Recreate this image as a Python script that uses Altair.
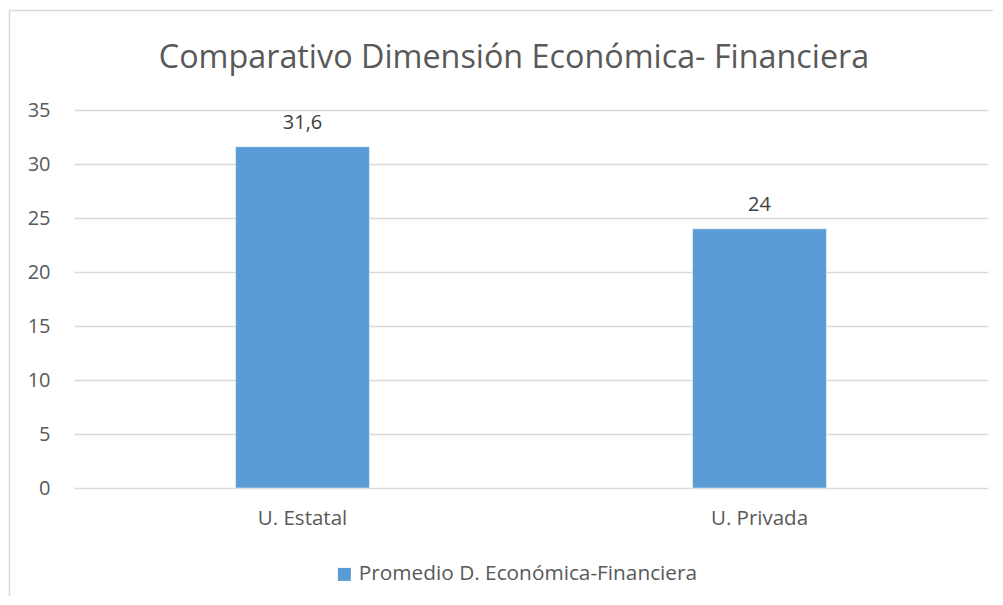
import altair as alt
import pandas as pd

categories = ["U. Estatal", "U. Privada"]
values = [31.6, 24]
value_labels = ["31,6", "24"]
series_name = "Promedio D. Económica-Financiera"
y_ticks = [0, 5, 10, 15, 20, 25, 30, 35]
title_text = "Comparativo Dimensión Económica- Financiera"

df = pd.DataFrame({
    "cat": categories,
    "val": values,
    "lab": value_labels,
    "series": [series_name] * len(categories),
})

FONT = "Open Sans"
TXT = "#595959"

x_enc = alt.X("cat:N", sort=categories, title=None,
              scale=alt.Scale(paddingInner=0.707, paddingOuter=0.3535),
              axis=alt.Axis(labelAngle=0, ticks=False, domain=False, labelPadding=20,
                            labelFontSize=20.5, labelColor=TXT, labelFont=FONT))
y_enc = alt.Y("val:Q", title=None,
              scale=alt.Scale(domain=[0, 35], nice=False),
              axis=alt.Axis(values=y_ticks, ticks=False, domain=False, labelPadding=24,
                            labelFontSize=20, labelColor=TXT, labelFont=FONT,
                            grid=True, gridColor="#D9D9D9", gridWidth=1.4))

bars = alt.Chart(df).mark_bar(stroke="#FFFFFF", strokeWidth=0.5).encode(
    x=x_enc,
    y=y_enc,
    color=alt.Color("series:N", title=None,
                    scale=alt.Scale(range=["#5B9BD5"]),
                    legend=alt.Legend(orient="none", legendX=260, legendY=454,
                                      symbolType="square", symbolSize=169,
                                      symbolStrokeWidth=0, labelLimit=600,
                                      labelFontSize=20.8, labelColor=TXT, labelFont=FONT,
                                      labelOffset=4)),
)

labels = alt.Chart(df).mark_text(baseline="alphabetic", dy=-18, fontSize=20,
                                 font=FONT, color="#404040").encode(
    x=alt.X("cat:N", sort=categories),
    y=alt.Y("val:Q"),
    text="lab:N",
)

title = alt.Chart(pd.DataFrame({"t": [title_text]})).mark_text(
    baseline="alphabetic", align="center", fontSize=32.3, font=FONT, color=TXT
).encode(
    x=alt.value(440), y=alt.value(-42), text="t:N"
)

border = alt.Chart(pd.DataFrame({"k": [0]})).mark_rect(
    fill=None, stroke="#D9D9D9", strokeWidth=1.5, filled=False
).encode(
    x=alt.value(-64.5), x2=alt.value(1000), y=alt.value(-99.5), y2=alt.value(620)
)

chart = alt.layer(border, bars, labels, title).properties(
    width=914,
    height=378,
    padding={"left": 66, "top": 102, "right": 5, "bottom": 108},
    autosize=alt.AutoSizeParams(type="none"),
).configure(background="#FFFFFF").configure_view(strokeWidth=0, stroke=None)

chart.save("out.html", embed_options={"renderer": "svg", "actions": False})
